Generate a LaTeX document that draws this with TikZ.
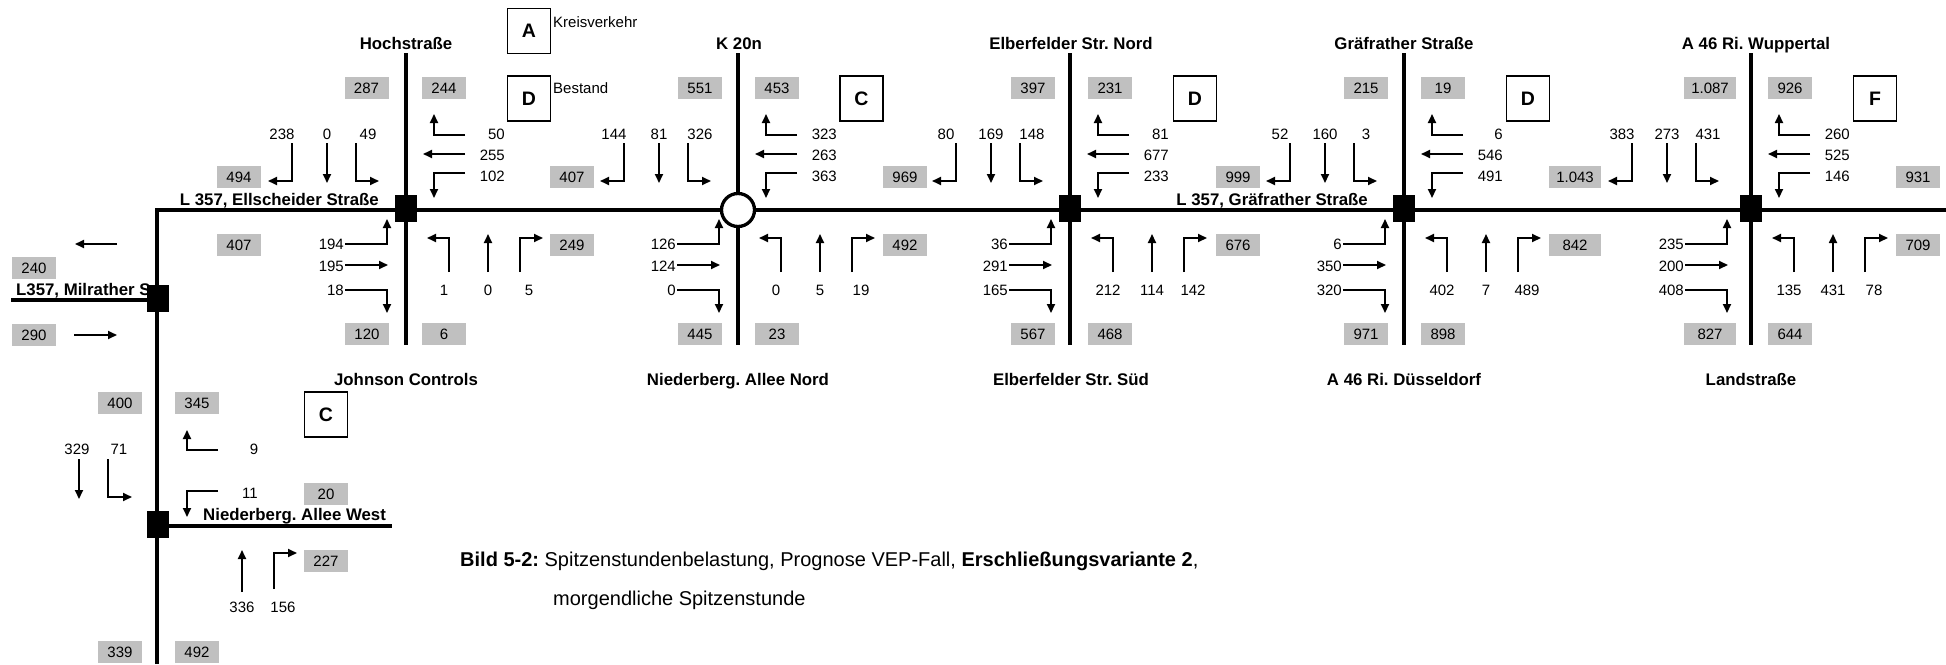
\documentclass[tikz,border=0pt]{standalone}
\usepackage{fontspec}
\setmainfont{Liberation Sans}
\usetikzlibrary{arrows.meta}
\frenchspacing
\definecolor{boxgray}{RGB}{192,192,192}
\newcommand\armN[3]{%
  \draw[mv] (-114,143) |- (-138,181);
  \draw[mv] (-79,143) -- (-79,183);
  \draw[mv] (-50,143) |- (-27,181);
  \node[num] at (-124,134) {#1};
  \node[num] at (-79,134) {#2};
  \node[num] at (-38,134) {#3};}
\newcommand\armE[3]{%
  \draw[mv] (59,135) -| (28,114);
  \draw[mv] (59,154) -- (17,154);
  \draw[mv] (59,173) -| (28,198);
  \node[num,anchor=east] at (99,134) {#1};
  \node[num,anchor=east] at (99,155) {#2};
  \node[num,anchor=east] at (99,176) {#3};}
\newcommand\armW[3]{%
  \draw[mv] (-61,244) -| (-19,219);
  \draw[mv] (-61,265) -- (-18,265);
  \draw[mv] (-61,290) -| (-19,313);
  \node[num,anchor=east] at (-62,244) {#1};
  \node[num,anchor=east] at (-62,266) {#2};
  \node[num,anchor=east] at (-62,290) {#3};}
\newcommand\armS[3]{%
  \draw[mv] (43,272) |- (21,238);
  \draw[mv] (82,272) -- (82,234);
  \draw[mv] (114,272) |- (137,238);
  \node[num] at (38,290) {#1};
  \node[num] at (82,290) {#2};
  \node[num] at (123,290) {#3};}
\begin{document}
\begin{tikzpicture}[x=1pt,y=-1pt,
  road/.style={line width=3.3pt},
  mv/.style={line width=1.8pt,-{Triangle[length=9pt,width=8pt]}},
  num/.style={font=\fontsize{15}{18}\selectfont,inner sep=0pt},
  lbl/.style={font=\fontsize{16.8}{20}\selectfont\bfseries,inner sep=0pt,anchor=base},
  gbox/.style={fill=boxgray,minimum width=44pt,minimum height=22pt,inner sep=0pt,font=\fontsize{15}{18}\selectfont},
  wbox/.style={gbox,minimum width=52pt},
  lbox/.style={draw,line width=1.8pt,minimum width=43pt,minimum height=45pt,inner sep=0pt,font=\fontsize{19.5}{22}\selectfont\bfseries},
  sq/.style={fill=black,minimum width=22pt,minimum height=27pt,inner sep=0pt},
]
\useasboundingbox (0,0) rectangle (1946,664);

% ---------- roads ----------
\coordinate (corner) at (157,210);
\coordinate (eastend) at (1946,210);
\coordinate (southend) at (157,664);
\coordinate (milw) at (11,300);
\coordinate (milj) at (157,300);
\coordinate (nwj) at (157,526);
\coordinate (nwe) at (392,526);
\draw[road] (southend) -- (corner) -- (eastend);
\draw[road] (milw) -- (milj);
\draw[road] (nwj) -- (nwe);
\foreach \X/\n in {406/1,738/2,1070/3,1404/4,1751/5}{
  \coordinate (top\n) at (\X,53);
  \coordinate (bot\n) at (\X,345);
  \draw[road] (top\n) -- (bot\n);
}

% ---------- road names ----------
\node[lbl] (n1) at (406,49.5) {Hochstraße};
\node[lbl] (n2) at (739,49.5) {K 20n};
\node[lbl] (n3) at (1071,49.5) {Elberfelder Str. Nord};
\node[lbl] (n4) at (1404,49.5) {Gräfrather Straße};
\node[lbl] (n5) at (1756,49.5) {A 46 Ri. Wuppertal};
\node[lbl] (s1) at (406,385) {Johnson Controls};
\node[lbl] (s2) at (738,385) {Niederberg. Allee Nord};
\node[lbl] (s3) at (1071,385) {Elberfelder Str. Süd};
\node[lbl] (s4) at (1404,385) {A 46 Ri. Düsseldorf};
\node[lbl] (s5) at (1751,385) {Landstraße};
\node[lbl,anchor=base east] (ell) at (379,205.5) {L 357, Ellscheider Straße};
\node[lbl,anchor=base east] (grs) at (1368,205.5) {L 357, Gräfrather Straße};
\node[lbl,anchor=base west] (mil) at (16,295) {L357, Milrather S};
\node[lbl,anchor=base west] (nbw) at (203,520) {Niederberg. Allee West};

% ---------- junction markers ----------
\node[sq] (j1) at (406,208.5) {};
\node[draw,line width=3.3pt,fill=white,circle,minimum size=33pt,inner sep=0pt] (j2) at (738,210) {};
\node[sq] (j3) at (1070,208.5) {};
\node[sq] (j4) at (1404,208.5) {};
\node[sq] (j5) at (1751,208.5) {};
\node[sq] (jm) at (157.5,298.5) {};
\node[sq] (jn) at (157.5,524) {};

% ---------- movements ----------
\begin{scope}[shift={(406,0)}]\armN{238}{0}{49}\armE{50}{255}{102}\armW{194}{195}{18}\armS{1}{0}{5}\end{scope}
\begin{scope}[shift={(738,0)}]\armN{144}{81}{326}\armE{323}{263}{363}\armW{126}{124}{0}\armS{0}{5}{19}\end{scope}
\begin{scope}[shift={(1070,0)}]\armN{80}{169}{148}\armE{81}{677}{233}\armW{36}{291}{165}\armS{212}{114}{142}\end{scope}
\begin{scope}[shift={(1404,0)}]\armN{52}{160}{3}\armE{6}{546}{491}\armW{6}{350}{320}\armS{402}{7}{489}\end{scope}
\begin{scope}[shift={(1746,0)}]\armN{383}{273}{431}\armW{235}{200}{408}\end{scope}
\begin{scope}[shift={(1751,0)}]\armE{260}{525}{146}\armS{135}{431}{78}\end{scope}

% left area
\draw[mv] (117,244) -- (75,244);
\draw[mv] (74,335) -- (117,335);
\draw[mv] (79,459) -- (79,499);
\node[num] at (77,449) {329};
\draw[mv] (108,459) |- (132,497);
\node[num] at (119,449) {71};
\draw[mv] (218,450) -| (187,430);
\node[num] at (254,449) {9};
\draw[mv] (218,491) -| (187,517);
\node[num] at (250,493) {11};
\draw[mv] (242,592) -- (242,550);
\node[num] at (242,607) {336};
\draw[mv] (274,589) |- (297,553);
\node[num] at (283,607) {156};

% ---------- grey boxes ----------
\foreach \x/\v in {366.5/287,444/244,700/551,777/453,1033/397,1110/231,1366/215,1443/19,1790/926}
  \node[gbox] at (\x,88) {\v};
\node[wbox] at (1710,88) {1.087};
\foreach \x/\v in {367/120,444/6,700/445,777/23,1033/567,1110/468,1366/971,1443/898,1790/644}
  \node[gbox] at (\x,334) {\v};
\node[wbox] at (1710,334) {827};
\foreach \x/\v in {239/494,572/407,905/969,1238/999,1918/931}
  \node[gbox] at (\x,177) {\v};
\node[wbox] at (1575,177) {1.043};
\foreach \x/\v in {239/407,572/249,905/492,1238/676,1918/709}
  \node[gbox] at (\x,245) {\v};
\node[wbox] at (1575,245) {842};
\node[gbox] at (34,268) {240};
\node[gbox] at (34,335) {290};
\node[gbox] at (120,403) {400};
\node[gbox] at (197,403) {345};
\node[gbox] at (326,494) {20};
\node[gbox] at (326,561) {227};
\node[gbox] at (120,652) {339};
\node[gbox] at (197,652) {492};

% ---------- letter boxes ----------
\node[lbox] (la) at (529,31) {A};
\node[num,anchor=west] (kv) at (553,22.5) {Kreisverkehr};
\node[lbox] (ld) at (529,98.5) {D};
\node[num,anchor=west] (be) at (553,88.5) {Bestand};
\node[lbox] (l2) at (861.5,98.5) {C};
\node[lbox] (l3) at (1195,98.5) {D};
\node[lbox] (l4) at (1528,98.5) {D};
\node[lbox] (l5) at (1875,98.5) {F};
\node[lbox] (l6) at (326,414.5) {C};

% ---------- caption ----------
\node[anchor=base west,inner sep=0pt,font=\fontsize{20}{24}\selectfont] (cap1) at (460,566)
  {\textbf{Bild 5-2:} Spitzenstundenbelastung, Prognose VEP-Fall, \textbf{Erschließungsvariante 2},};
\node[anchor=base west,inner sep=0pt,font=\fontsize{20}{24}\selectfont] (cap2) at (553,605)
  {morgendliche Spitzenstunde};
\end{tikzpicture}
\end{document}
